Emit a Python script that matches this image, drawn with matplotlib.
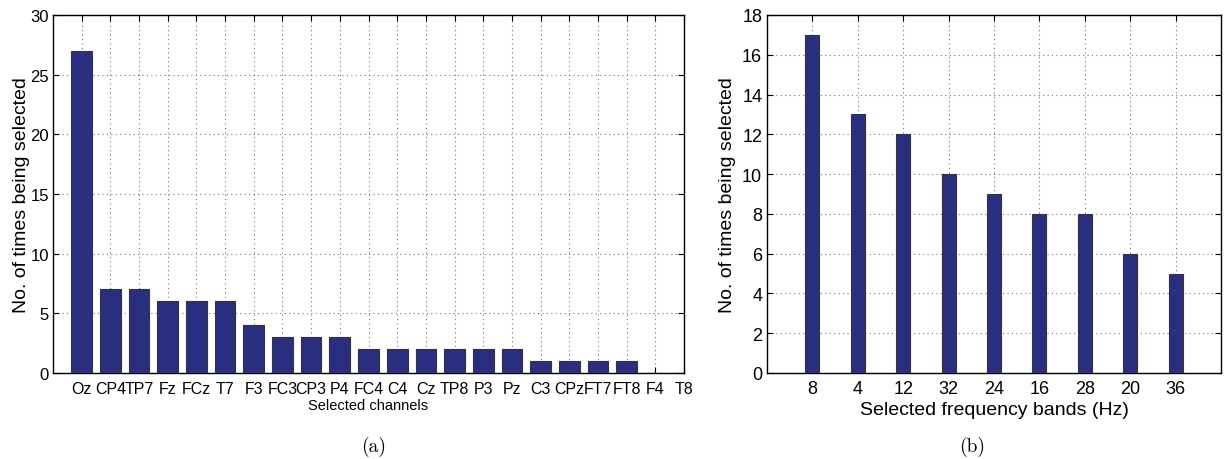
import matplotlib
matplotlib.use("Agg")
import matplotlib.pyplot as plt
import numpy as np

channels = ["Oz", "CP4", "TP7", "Fz", "FCz", "T7", "F3", "FC3", "CP3", "P4", "FC4",
            "C4", "Cz", "TP8", "P3", "Pz", "C3", "CPz", "FT7", "FT8", "F4", "T8"]
channel_counts = [27, 7, 7, 6, 6, 6, 4, 3, 3, 3, 2, 2, 2, 2, 2, 2, 1, 1, 1, 1, 0, 0]

bands = ["8", "4", "12", "32", "24", "16", "28", "20", "36"]
band_counts = [17, 13, 12, 10, 9, 8, 8, 6, 5]

BAR_COLOR = "#2a2e80"
EDGE_COLOR = "#333333"

plt.rcParams["font.family"] = ["Liberation Sans", "DejaVu Sans"]

W, H = 1229, 460
fig = plt.figure(figsize=(W / 100, H / 100), dpi=100)


def style_axes(ax):
    ax.grid(True, linestyle=(0, (1, 3)), color="#777777", linewidth=0.8)
    ax.set_axisbelow(True)
    ax.tick_params(direction="in", top=True, right=True, length=4, width=0.8,
                   colors="black")
    ax.tick_params(axis="x", pad=6)
    ax.tick_params(axis="y", pad=3)
    for s in ax.spines.values():
        s.set_linewidth(1.0)
        s.set_color("black")


# (a) channels
ax1 = fig.add_axes([53 / W, 86 / H, (684 - 53) / W, 358 / H])
x1 = np.arange(1, len(channels) + 1)
ax1.bar(x1, channel_counts, width=0.72, color=BAR_COLOR, edgecolor=EDGE_COLOR,
        linewidth=0.8, zorder=3)
ax1.set_xlim(0, 22)
ax1.set_ylim(0, 30)
ax1.set_xticks(x1)
ax1.set_xticklabels(channels)
ax1.set_yticks(np.arange(0, 31, 5))
style_axes(ax1)
ax1.tick_params(axis="x", labelsize=11.5)
ax1.tick_params(axis="y", labelsize=12)
ax1.set_xlabel("Selected channels", fontsize=10.5, labelpad=1)
ax1.set_ylabel("No. of times being selected", fontsize=14)
ax1.yaxis.set_label_coords(-0.037, 0.5)

# (b) frequency bands
ax2 = fig.add_axes([767 / W, 86 / H, (1221 - 767) / W, 358 / H])
x2 = np.arange(1, len(bands) + 1)
ax2.bar(x2, band_counts, width=0.31, color=BAR_COLOR, edgecolor=EDGE_COLOR,
        linewidth=0.8, zorder=3)
ax2.set_xlim(0, 10)
ax2.set_ylim(0, 18)
ax2.set_xticks(x2)
ax2.set_xticklabels(bands)
ax2.set_yticks(np.arange(0, 19, 2))
style_axes(ax2)
ax2.tick_params(axis="both", labelsize=13)
ax2.tick_params(axis="x", pad=5)
ax2.tick_params(axis="y", pad=3.5)
ax2.set_xlabel("Selected frequency bands (Hz)", fontsize=14, labelpad=3)
ax2.set_ylabel("No. of times being selected", fontsize=14)
ax2.yaxis.set_label_coords(-0.068, 0.5)

# sub-figure captions
fig.text(374 / W, 1 - 447 / H, "(a)", family="cmr10", fontsize=14,
         ha="center", va="center")
fig.text(972 / W, 1 - 447 / H, "(b)", family="cmr10", fontsize=14,
         ha="center", va="center")

fig.savefig("out.png", dpi=100)
